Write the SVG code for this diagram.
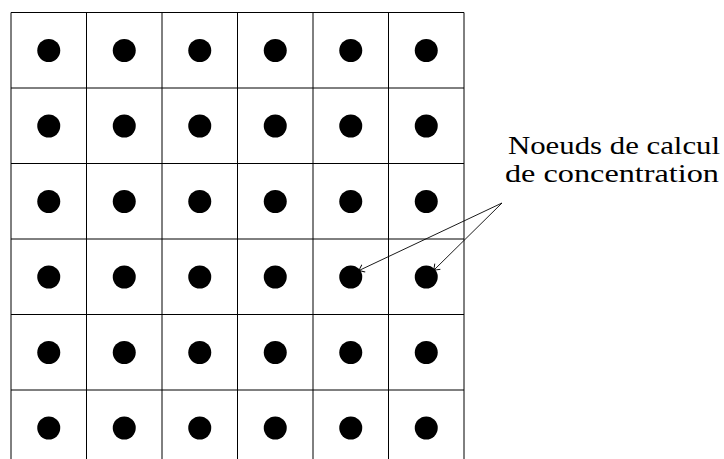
<svg xmlns="http://www.w3.org/2000/svg" width="724" height="459" viewBox="0 0 724 459">
<style>
.grid{stroke:#000;stroke-width:1;fill:none}
.dot{fill:#000}
.lbl{font-family:'Liberation Serif','DejaVu Serif',serif;font-size:26px;fill:#000}
.arr{stroke:#000;stroke-width:0.9;fill:none;marker-end:url(#to)}
</style>
<defs>
<marker id="to" viewBox="-6 -5 8 10" markerWidth="8" markerHeight="10" refX="0" refY="0" orient="auto" markerUnits="userSpaceOnUse">
<path d="M-5,-4 Q-1,-1 0,0 Q-1,1 -5,4" stroke="#000" stroke-width="0.9" fill="none"/>
</marker>
</defs>
<g id="grid" class="grid">
<line x1="11" y1="12.5" x2="464" y2="12.5"/>
<line x1="11" y1="88" x2="464" y2="88"/>
<line x1="11" y1="163.5" x2="464" y2="163.5"/>
<line x1="11" y1="239" x2="464" y2="239"/>
<line x1="11" y1="314.5" x2="464" y2="314.5"/>
<line x1="11" y1="390" x2="464" y2="390"/>
<line x1="11" y1="12.5" x2="11" y2="459"/>
<line x1="86.5" y1="12.5" x2="86.5" y2="459"/>
<line x1="162" y1="12.5" x2="162" y2="459"/>
<line x1="237.5" y1="12.5" x2="237.5" y2="459"/>
<line x1="313" y1="12.5" x2="313" y2="459"/>
<line x1="388.5" y1="12.5" x2="388.5" y2="459"/>
<line x1="464" y1="12.5" x2="464" y2="459"/>
</g>
<g id="nodes" class="dot">
<g id="r1"><circle cx="48.75" cy="50.5" r="11.5"/><circle cx="124.25" cy="50.5" r="11.5"/><circle cx="199.75" cy="50.5" r="11.5"/><circle cx="275.25" cy="50.5" r="11.5"/><circle cx="350.75" cy="50.5" r="11.5"/><circle cx="426.25" cy="50.5" r="11.5"/></g>
<g id="r2"><circle cx="48.75" cy="126" r="11.5"/><circle cx="124.25" cy="126" r="11.5"/><circle cx="199.75" cy="126" r="11.5"/><circle cx="275.25" cy="126" r="11.5"/><circle cx="350.75" cy="126" r="11.5"/><circle cx="426.25" cy="126" r="11.5"/></g>
<g id="r3"><circle cx="48.75" cy="201.5" r="11.5"/><circle cx="124.25" cy="201.5" r="11.5"/><circle cx="199.75" cy="201.5" r="11.5"/><circle cx="275.25" cy="201.5" r="11.5"/><circle cx="350.75" cy="201.5" r="11.5"/><circle cx="426.25" cy="201.5" r="11.5"/></g>
<g id="r4"><circle cx="48.75" cy="277" r="11.5"/><circle cx="124.25" cy="277" r="11.5"/><circle cx="199.75" cy="277" r="11.5"/><circle cx="275.25" cy="277" r="11.5"/><circle cx="350.75" cy="277" r="11.5"/><circle cx="426.25" cy="277" r="11.5"/></g>
<g id="r5"><circle cx="48.75" cy="352.5" r="11.5"/><circle cx="124.25" cy="352.5" r="11.5"/><circle cx="199.75" cy="352.5" r="11.5"/><circle cx="275.25" cy="352.5" r="11.5"/><circle cx="350.75" cy="352.5" r="11.5"/><circle cx="426.25" cy="352.5" r="11.5"/></g>
<g id="r6"><circle cx="48.75" cy="428" r="11.5"/><circle cx="124.25" cy="428" r="11.5"/><circle cx="199.75" cy="428" r="11.5"/><circle cx="275.25" cy="428" r="11.5"/><circle cx="350.75" cy="428" r="11.5"/><circle cx="426.25" cy="428" r="11.5"/></g>
</g>
<g id="label">
<text class="lbl" x="508" y="154" textLength="212" lengthAdjust="spacingAndGlyphs">Noeuds de calcul</text>
<text class="lbl" x="505" y="182" textLength="214" lengthAdjust="spacingAndGlyphs">de concentration</text>
</g>
<g id="connectors">
<line class="arr" x1="502" y1="203" x2="359" y2="270.5"/>
<line class="arr" x1="502" y1="203" x2="434" y2="270"/>
</g>
</svg>
